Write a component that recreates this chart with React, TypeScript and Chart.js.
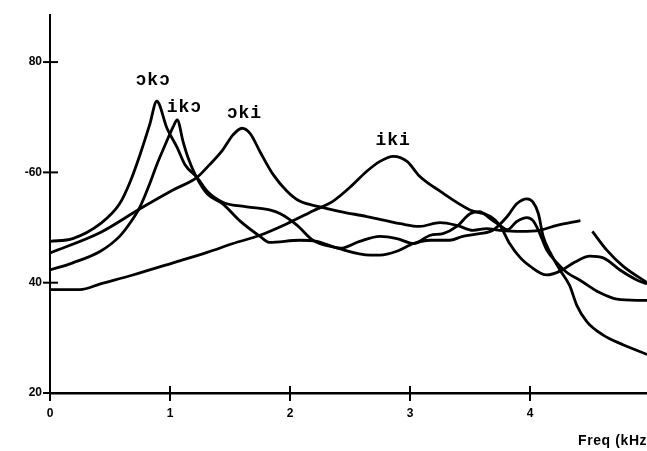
import React, { useEffect, useRef } from 'react';
import { Chart, registerables } from 'chart.js';

Chart.register(...registerables);

// ---- data (frequency in kHz, level in dB) ----
const okoFreq = [0, 0.19, 0.42, 0.58, 0.67, 0.75, 0.83, 0.89, 0.975, 1.06, 1.125, 1.225, 1.31, 1.44, 1.64, 1.83, 1.92, 2.06, 2.19, 2.39, 2.67, 2.75, 2.89, 3.03, 3.17, 3.33, 3.44, 3.58, 3.69, 3.81, 3.89, 3.975, 4.025, 4.07, 4.11, 4.17, 4.25, 4.33, 4.39, 4.475, 4.61, 4.775, 4.975];
const okoDb = [47.5, 48.0, 50.7, 54.3, 58.4, 63.2, 68.6, 72.9, 68.0, 64.5, 61.4, 59.1, 56.6, 54.6, 53.75, 53.2, 52.5, 50.4, 47.7, 46.3, 45.0, 45.0, 45.7, 47.1, 47.7, 47.7, 48.4, 48.9, 49.5, 52.0, 54.3, 55.2, 54.6, 52.5, 48.4, 45.4, 42.3, 39.5, 35.9, 32.9, 30.5, 28.75, 27.0];

const ikoFreq = [0, 0.19, 0.42, 0.58, 0.67, 0.75, 0.83, 0.89, 0.96, 1.025, 1.06, 1.11, 1.15, 1.21, 1.31, 1.44, 1.58, 1.75, 1.83, 2.08, 2.225, 2.42, 2.58, 2.75, 2.89, 3.03, 3.17, 3.275, 3.39, 3.5, 3.58, 3.67, 3.75, 3.81, 3.89, 3.975, 4.025, 4.07, 4.14, 4.225, 4.31, 4.42, 4.58, 4.725, 4.89, 4.975];
const ikoDb = [42.3, 43.6, 45.7, 48.4, 50.9, 53.75, 57.9, 61.4, 65.0, 68.2, 69.5, 65.5, 62.7, 59.6, 56.1, 54.3, 51.25, 48.4, 47.3, 47.7, 47.5, 46.25, 47.5, 48.4, 48.0, 47.1, 48.6, 48.9, 50.2, 52.5, 52.9, 51.6, 50.4, 49.6, 51.1, 51.8, 51.25, 49.5, 45.9, 43.6, 41.8, 40.4, 38.2, 37.0, 36.8, 36.8];

const okiFreq = [0, 0.42, 0.75, 1.025, 1.225, 1.33, 1.44, 1.525, 1.6, 1.67, 1.75, 1.86, 1.975, 2.08, 2.25, 2.42, 2.64, 2.92, 3.08, 3.25, 3.39, 3.525, 3.64, 3.75, 3.92, 4.08, 4.225, 4.42, 4.47, 4.52, 4.64, 4.775, 4.975];
const okiDb = [45.4, 49.1, 53.4, 56.8, 59.1, 61.4, 64.1, 66.8, 68.0, 67.0, 63.75, 59.6, 56.6, 54.8, 53.75, 52.9, 52.0, 50.7, 50.2, 50.9, 50.4, 49.5, 49.8, 49.5, 49.3, 49.5, 50.4, 51.25, null, 49.3, 45.9, 43.0, 40.0];

const ikiFreq = [0, 0.25, 0.42, 0.69, 1.025, 1.31, 1.525, 1.75, 1.975, 2.19, 2.36, 2.5, 2.64, 2.75, 2.86, 2.975, 3.08, 3.25, 3.5, 3.67, 3.75, 3.83, 3.92, 4.0, 4.14, 4.25, 4.375, 4.5, 4.61, 4.75, 4.89, 4.975];
const ikiDb = [38.75, 38.75, 39.8, 41.4, 43.6, 45.5, 47.1, 48.6, 50.7, 53.0, 54.8, 57.3, 60.2, 62.0, 62.9, 62.0, 59.3, 56.6, 53.2, 52.0, 50.4, 47.1, 44.5, 43.0, 41.4, 42.1, 43.75, 44.8, 44.5, 42.3, 40.5, 39.8];

const yTickValues = [20, 40, 60, 80];
const yTickLabels = ['20', '40', '-60', '80'];
const xTickValues = [0, 1, 2, 3, 4];
const xTickLabels = ['0', '1', '2', '3', '4'];

const curveLabels = ['ɔkɔ', 'ikɔ', 'ɔki', 'iki'];
const curveLabelFreq = [0.86, 1.12, 1.62, 2.86];
const curveLabelDb = [75.9, 70.9, 69.8, 65.0];

const axisTitle = 'Freq (kHz)';
const axisTitleFreq = 4.4;

const toPoints = (xs: number[], ys: (number | null)[]) => xs.map((x, i) => ({ x, y: ys[i] }));

const decorPlugin = {
  id: 'decor',
  afterDraw(chart: any) {
    const ctx = chart.ctx as CanvasRenderingContext2D;
    const xs = chart.scales.x;
    const ys = chart.scales.y;
    ctx.save();
    ctx.strokeStyle = '#000';
    ctx.lineWidth = 2;
    yTickValues.forEach((v) => {
      const py = ys.getPixelForValue(v);
      ctx.beginPath();
      ctx.moveTo(xs.left - 7, py);
      ctx.lineTo(xs.left + 8, py);
      ctx.stroke();
    });
    xTickValues.forEach((v) => {
      const px = xs.getPixelForValue(v);
      ctx.beginPath();
      ctx.moveTo(px, ys.bottom - 7);
      ctx.lineTo(px, ys.bottom + 8);
      ctx.stroke();
    });
    ctx.fillStyle = '#000';
    ctx.font = 'bold 18px "Liberation Mono", "DejaVu Sans Mono", monospace';
    (ctx as any).letterSpacing = '1px';
    ctx.textAlign = 'center';
    ctx.textBaseline = 'alphabetic';
    curveLabels.forEach((t, i) => {
      ctx.fillText(t, xs.getPixelForValue(curveLabelFreq[i]), ys.getPixelForValue(curveLabelDb[i]));
    });
    (ctx as any).letterSpacing = '0.6px';
    ctx.font = 'bold 14px "Liberation Sans", Arial, sans-serif';
    ctx.textAlign = 'left';
    ctx.fillText(axisTitle, xs.getPixelForValue(axisTitleFreq), ys.bottom + 52);
    ctx.restore();
  },
};

export default function App() {
  const ref = useRef<HTMLCanvasElement | null>(null);

  useEffect(() => {
    if (!ref.current) return;
    const lineStyle = {
      borderColor: '#000',
      borderWidth: 2.8,
      pointRadius: 0,
      fill: false,
      cubicInterpolationMode: 'monotone' as const,
      spanGaps: false,
    };
    const tickFont = { family: '"Liberation Sans", Arial, sans-serif', size: 12, weight: 'bold' as const };
    const chart = new Chart(ref.current, {
      type: 'line',
      data: {
        datasets: [
          { label: 'ɔkɔ', data: toPoints(okoFreq, okoDb), ...lineStyle },
          { label: 'ikɔ', data: toPoints(ikoFreq, ikoDb), ...lineStyle },
          { label: 'ɔki', data: toPoints(okiFreq, okiDb), ...lineStyle },
          { label: 'iki', data: toPoints(ikiFreq, ikiDb), ...lineStyle },
        ],
      },
      options: {
        animation: false,
        responsive: false,
        devicePixelRatio: 1,
        layout: { padding: { top: 8, right: 0, left: 0, bottom: 0 } },
        plugins: { legend: { display: false }, tooltip: { enabled: false } },
        scales: {
          x: {
            type: 'linear',
            min: 0,
            max: 4.975,
            afterFit: (s: any) => { s.height = 58; },
            afterBuildTicks: (s: any) => { s.ticks = xTickValues.map((v) => ({ value: v })); },
            grid: { display: true, drawOnChartArea: false, drawTicks: false },
            border: { display: true, color: '#000', width: 2.5 },
            ticks: {
              padding: 13,
              color: '#000',
              font: tickFont,
              callback: (v: any) => {
                const i = xTickValues.indexOf(Number(v));
                return i >= 0 ? xTickLabels[i] : '';
              },
            },
          },
          y: {
            type: 'linear',
            min: 20,
            max: 88.5,
            afterFit: (s: any) => { s.width = 50; },
            afterBuildTicks: (s: any) => { s.ticks = yTickValues.map((v) => ({ value: v })); },
            grid: { display: true, drawOnChartArea: false, drawTicks: false },
            border: { display: true, color: '#000', width: 2 },
            ticks: {
              padding: 8,
              color: '#000',
              font: tickFont,
              callback: (v: any) => {
                const i = yTickValues.indexOf(Number(v));
                return i >= 0 ? yTickLabels[i] : '';
              },
            },
          },
        },
      },
      plugins: [decorPlugin],
    });
    return () => chart.destroy();
  }, []);

  return (
    <div style={{ position: 'fixed', left: 0, top: 0, width: 647, height: 451, background: '#fff' }}>
      <canvas ref={ref} width={647} height={451} style={{ display: 'block' }} />
    </div>
  );
}
